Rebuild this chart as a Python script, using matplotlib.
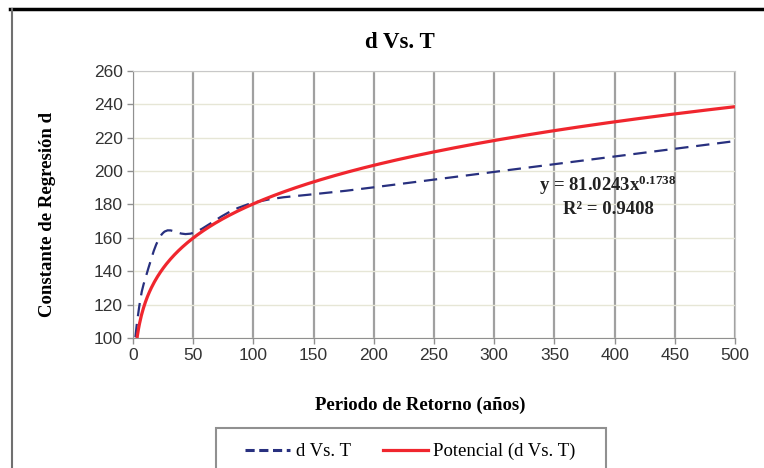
import numpy as np
import matplotlib
matplotlib.use("Agg")
import matplotlib.pyplot as plt
from matplotlib.path import Path
from matplotlib.patches import PathPatch, Rectangle
from matplotlib.lines import Line2D

# data
periods = [2, 5, 10, 25, 50, 100, 200, 500]
d_values = [100.5, 118, 135, 163, 163, 181, 190.3, 218]
fit_a, fit_b = 81.0243, 0.1738
r2 = 0.9408
x_ticks = [0, 50, 100, 150, 200, 250, 300, 350, 400, 450, 500]
y_ticks = [100, 120, 140, 160, 180, 200, 220, 240, 260]

SERIF = ["Liberation Serif", "DejaVu Serif"]
SANS = ["Liberation Sans", "DejaVu Sans"]
BLUE = "#28307f"
RED = "#f0262e"

plt.rcParams["mathtext.fontset"] = "custom"
plt.rcParams["mathtext.rm"] = "Liberation Serif:bold"
plt.rcParams["mathtext.default"] = "rm"


def smooth_path(xs, ys):
    # Excel-like smoothed line: cubic Bezier through the points
    pts = np.column_stack([xs, ys]).astype(float)
    verts, codes = [pts[0]], [Path.MOVETO]
    n = len(pts)
    for i in range(n - 1):
        p0 = pts[i - 1] if i > 0 else pts[i]
        p1, p2 = pts[i], pts[i + 1]
        p3 = pts[i + 2] if i + 2 < n else pts[i + 1]
        verts += [p1 + (p2 - p0) / 6, p2 - (p3 - p1) / 6, p2]
        codes += [Path.CURVE4] * 3
    return Path(verts, codes)


def main():
    fig = plt.figure(figsize=(7.64, 4.68), dpi=100)
    ax = fig.add_axes([133 / 764, 1 - 338 / 468, 602 / 764, 267 / 468])

    # outer chart frame
    fig.add_artist(Line2D([10 / 764, 1], [1 - 9 / 468] * 2, color="black", lw=2.5))
    fig.add_artist(Line2D([12 / 764] * 2, [0, 1 - 9 / 468], color="#707070", lw=1.5))

    ax.set_xlim(0, 500)
    ax.set_ylim(100, 260)
    ax.set_xticks(x_ticks)
    ax.set_yticks(y_ticks)
    ax.grid(axis="x", color="#a0a0a0", lw=1.6)
    ax.grid(axis="y", color="#e6e6d6", lw=1)
    ax.set_axisbelow(True)
    for s in ["left", "bottom"]:
        ax.spines[s].set_color("#909090")
    for s in ["top", "right"]:
        ax.spines[s].set_color("#c8c8c8")
    ax.tick_params(colors="#909090", labelcolor="#333333", length=4, width=1)
    for lab in ax.get_xticklabels() + ax.get_yticklabels():
        lab.set_family(SANS)
        lab.set_fontsize(12.5)

    # trendline
    tx = np.linspace(periods[0], periods[-1], 600)
    ax.plot(tx, fit_a * tx ** fit_b, color=RED, lw=2.3, solid_capstyle="butt")

    # data series (smoothed)
    patch = PathPatch(smooth_path(periods, d_values), facecolor="none", edgecolor=BLUE,
                      lw=1.6, linestyle=(0, (6, 3.5)))
    ax.add_patch(patch)

    ax.text(394, 191.5, f"y = {fit_a}x$^{{{fit_b}}}$", family=SERIF, weight="bold",
            fontsize=13.5, ha="center", va="center", color="#222222")
    ax.text(395, 177, f"R² = {r2}", family=SERIF, weight="bold",
            fontsize=13.5, ha="center", va="center", color="#222222")

    fig.text(400 / 764, 1 - 42 / 468, "d Vs. T", family=SERIF, weight="bold",
             fontsize=16.5, ha="center", va="center")
    fig.text(420 / 764, 1 - 405 / 468, "Periodo de Retorno (años)", family=SERIF,
             weight="bold", fontsize=13.5, ha="center", va="center")
    fig.text(48 / 764, 1 - 214 / 468, "Constante de Regresión d", family=SERIF,
             weight="bold", fontsize=13.5, ha="center", va="center", rotation=90)

    # legend box (runs off the bottom edge, as in the original)
    fig.add_artist(Rectangle((216 / 764, -0.02), 390 / 764, 0.02 + 1 - 428 / 468,
                             transform=fig.transFigure, facecolor="white",
                             edgecolor="#909090", lw=1.5))
    handles = [Line2D([], [], color=BLUE, lw=2.2, linestyle=(0, (3, 1.5))),
               Line2D([], [], color=RED, lw=2.3)]
    fig.legend(handles, ["d Vs. T", "Potencial (d Vs. T)"], ncol=2,
               loc="upper left", bbox_to_anchor=(245 / 764, 1 - 443 / 468),
               prop={"family": SERIF, "size": 13.5}, frameon=False,
               handlelength=2.4, columnspacing=1.7, borderpad=0,
               handletextpad=0.3, borderaxespad=0)

    fig.savefig("out.png", dpi=100)


if __name__ == "__main__":
    main()
